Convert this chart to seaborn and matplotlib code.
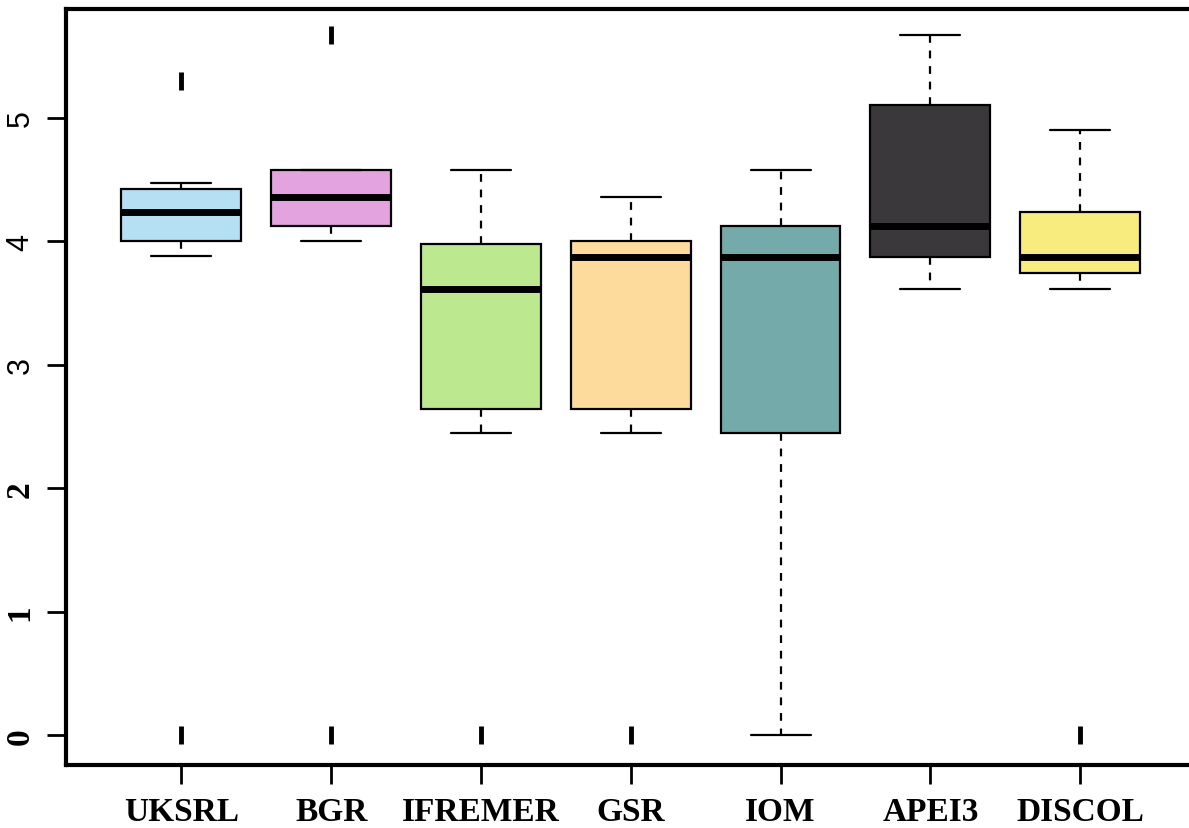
import numpy as np
import pandas as pd
import matplotlib
matplotlib.use("Agg")
import matplotlib.pyplot as plt
import seaborn as sns

# Sites and their values (9 per site, chosen so quartiles/whiskers match the figure)
sites = ["UKSRL", "BGR", "IFREMER", "GSR", "IOM", "APEI3", "DISCOL"]
uksrl = [0.00, 3.88, 4.00, 4.00, 4.24, 4.24, 4.42, 4.47, 5.30]
bgr = [0.00, 4.00, 4.12, 4.12, 4.36, 4.36, 4.58, 4.58, 5.67]
ifremer = [0.00, 2.45, 2.64, 2.64, 3.61, 3.61, 3.98, 4.58, 4.58]
gsr = [0.00, 2.45, 2.64, 2.64, 3.87, 3.87, 4.00, 4.36, 4.36]
iom = [0.00, 0.00, 2.45, 2.45, 3.87, 3.87, 4.12, 4.58, 4.58]
apei3 = [3.61, 3.61, 3.87, 3.87, 4.12, 4.12, 5.10, 5.67, 5.67]
discol = [0.00, 3.61, 3.74, 3.74, 3.87, 3.87, 4.24, 4.90, 4.90]
colors = ["#b5dff2", "#e2a3de", "#bce98f", "#fddb9c", "#74aaaa", "#3a383b", "#f8ec7e"]

values = [uksrl, bgr, ifremer, gsr, iom, apei3, discol]
df = pd.DataFrame({
    "site": np.repeat(sites, [len(v) for v in values]),
    "value": np.concatenate(values),
})

sns.set_style("ticks")
plt.rcParams["font.family"] = ["Liberation Serif", "DejaVu Serif"]
plt.rcParams["text.color"] = "black"
plt.rcParams["xtick.color"] = "black"
plt.rcParams["ytick.color"] = "black"

fig = plt.figure(figsize=(11.89, 8.29), dpi=100)
ax = fig.add_axes([0.0555, 0.076, 0.95, 0.912])

sns.boxplot(data=df, x="site", y="value", hue="site", order=sites,
            palette=colors, saturation=1, legend=False, width=0.8, whis=1.5, ax=ax,
            linecolor="black", linewidth=1.6,
            medianprops={"linewidth": 5, "color": "black", "solid_capstyle": "butt"},
            whiskerprops={"linestyle": (0, (3.5, 3.5)), "linewidth": 1.6},
            capprops={"linewidth": 1.6},
            flierprops={"marker": "|", "markersize": 13, "markeredgewidth": 3.5,
                        "markeredgecolor": "black"})

ax.set_xlim(-0.77, 6.77)
ax.set_ylim(-0.24, 5.88)
ax.set_yticks([0, 1, 2, 3, 4, 5])
ax.set_xlabel("")
ax.set_ylabel("")

for side in ["left", "bottom", "top"]:
    ax.spines[side].set_visible(True)
    ax.spines[side].set_linewidth(3)
    ax.spines[side].set_color("black")
ax.spines["right"].set_visible(False)

ax.tick_params(axis="both", direction="out", length=14, width=2, color="black",
               labelcolor="black", bottom=True, left=True, top=False, right=False)
ax.tick_params(axis="x", pad=8)
ax.tick_params(axis="y", pad=8)

ax.set_xticks(range(len(sites)))
ax.set_xticklabels(sites, fontsize=24, fontweight="bold")
ylabels = ax.set_yticklabels(["0", "1", "2", "3", "4", "5"], rotation=90,
                             va="center", fontsize=24)
for lab in ylabels[:3]:
    lab.set_fontweight("bold")
for lab in ylabels[3:]:
    lab.set_family(["Liberation Sans", "DejaVu Sans"])
    lab.set_fontsize(22)

fig.savefig("out.png", dpi=100, facecolor="white")
